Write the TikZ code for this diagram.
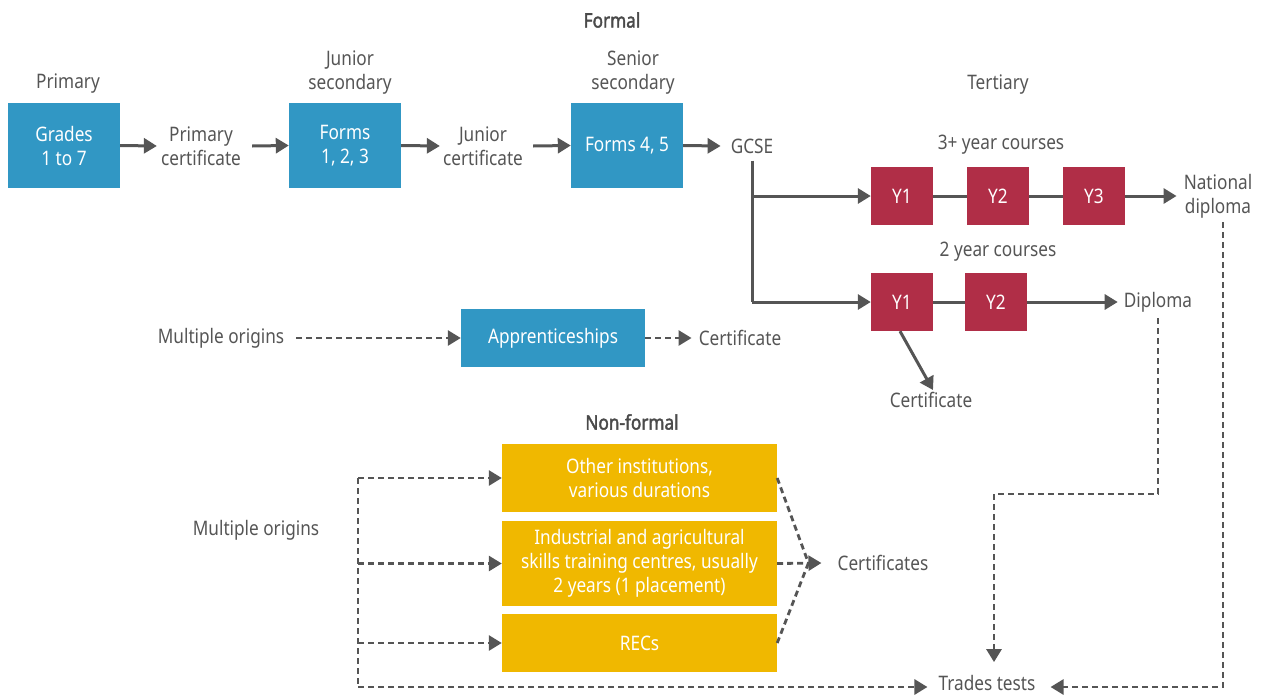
\documentclass[tikz,border=0pt]{standalone}
\usepackage{fontspec}
\setmainfont{Noto Sans}[FakeStretch=0.86]
\newfontfamily\headfont{Noto Sans}[FakeStretch=0.86, FakeBold=2]
\usetikzlibrary{arrows.meta}

\definecolor{eduBlue}{HTML}{3197C4}
\definecolor{eduRed}{HTML}{B02E47}
\definecolor{eduYellow}{HTML}{F0B800}
\definecolor{txtGray}{HTML}{555555}
\definecolor{headGray}{HTML}{4A4A4A}
\definecolor{lnGray}{HTML}{555555}

\tikzset{
  lbl/.style={text=txtGray, align=center, inner sep=0pt},
  head/.style={text=headGray, font=\fontsize{20}{24}\selectfont\headfont, inner sep=0pt},
  boxbase/.style={inner sep=0pt, text=white, align=center},
  bluebox/.style={boxbase, fill=eduBlue},
  redbox/.style={boxbase, fill=eduRed, minimum width=62pt, minimum height=58pt},
  yellowbox/.style={boxbase, fill=eduYellow, minimum width=275pt},
  ln/.style={draw=lnGray, line width=3pt},
  arr/.style={ln, -{Triangle[length=13pt,width=15pt]}},
  dl/.style={draw=lnGray, line width=2.8pt, dash pattern=on 6pt off 4pt},
  darr/.style={dl, -{Triangle[length=13pt,width=15pt]}},
}

\begin{document}
\begin{tikzpicture}[x=1pt, y=-1pt, font=\fontsize{20}{24}\selectfont]
\useasboundingbox (0,0) rectangle (1262,694);

% ---------- formal pathway ----------
\node[head] (hformal) at (612,20) {Formal};

\node[lbl] (lprim) at (68,84) {Primary};
\node[bluebox, minimum width=112pt, minimum height=85pt] (grades) at (64,145.5) {Grades\\1 to 7};
\node[lbl] (pcert) at (201,146) {Primary\\certificate};

\node[lbl] (ljun) at (350,73) {Junior\\secondary};
\node[bluebox, minimum width=112pt, minimum height=85pt] (f123) at (345,145.5) {Forms\\1, 2, 3};
\node[lbl] (jcert) at (483,146) {Junior\\certificate};

\node[lbl] (lsen) at (633,73) {Senior\\secondary};
\node[bluebox, minimum width=112pt, minimum height=85pt] (f45) at (627,145.5) {Forms 4, 5};
\node[lbl] (gcse) at (752,146) {GCSE};

\draw[arr] (grades.east) -- ([xshift=-4pt]pcert.west);
\draw[arr] ([xshift=11pt]pcert.east) -- (f123.west);
\draw[arr] (f123.east) -- ([xshift=-3pt]jcert.west);
\draw[arr] ([xshift=10pt]jcert.east) -- (f45.west);
\draw[arr] (f45.east) -- ([xshift=-10pt]gcse.west);

% ---------- tertiary ----------
\node[lbl] (lter) at (998,85) {Tertiary};
\node[lbl] (l3y) at (1001,145) {3+ year courses};
\node[redbox] (ya1) at (902,196) {Y1};
\node[redbox] (ya2) at (998,196) {Y2};
\node[redbox] (ya3) at (1094,196) {Y3};
\node[lbl] (natdip) at (1218,196) {National\\diploma};

\node[lbl] (l2y) at (998,252) {2 year courses};
\node[redbox] (yb1) at (902,302) {Y1};
\node[redbox] (yb2) at (996,302) {Y2};
\node[lbl] (dip) at (1158,302) {Diploma};
\node[lbl] (tcert) at (931,400) {Certificate};

\draw[ln] ([yshift=-7pt]gcse.south) -- (gcse.south |- yb1.west);
\draw[arr] (gcse.south |- yb1.west) -- (yb1.west);
\draw[arr] (gcse.south |- ya1.west) -- (ya1.west);
\draw[ln] (ya1.east) -- (ya2.west);
\draw[ln] (ya2.east) -- (ya3.west);
\draw[arr] (ya3.east) -- ([xshift=-7pt]natdip.west);
\draw[ln] (yb1.east) -- (yb2.west);
\draw[arr] (yb2.east) -- ([xshift=-6pt]dip.west);
\draw[arr] ([xshift=-2pt]yb1.south) -- ([xshift=2pt,yshift=2pt]tcert.north);

% ---------- apprenticeships ----------
\node[lbl] (morig1) at (221,338) {Multiple origins};
\node[bluebox, minimum width=184pt, minimum height=58pt] (appr) at (553,338) {Apprenticeships};
\node[lbl] (acert) at (740,338) {Certificate};
\draw[darr] ([xshift=12pt]morig1.east) -- (appr.west);
\draw[darr] (appr.east) -- ([xshift=-7pt]acert.west);

% ---------- non-formal pathway ----------
\node[head] (hnon) at (632,422) {Non-formal};
\node[yellowbox, minimum height=68pt] (oth) at (639.5,478) {Other institutions,\\various durations};
\node[yellowbox, minimum height=85pt] (ind) at (639.5,563.5) {Industrial and agricultural\\skills training centres, usually\\2 years (1 placement)};
\node[yellowbox, minimum height=58pt] (recs) at (639.5,643) {RECs};
\node[lbl] (morig2) at (256,530) {Multiple origins};
\node[lbl] (certs) at (883,563) {Certificates};
\node[lbl] (trades) at (987,683) {Trades tests};

\coordinate (brx) at (358,0);
\coordinate (bry) at (0,687);
\draw[dl] (brx |- oth.west) -- (brx |- bry);
\draw[darr] (brx |- oth.west) -- (oth.west);
\draw[darr] (brx |- ind.west) -- (ind.west);
\draw[darr] (brx |- recs.west) -- (recs.west);
\draw[darr] (brx |- bry) -- ([xshift=-11pt]trades.west |- bry);

\coordinate (cmeet) at ([xshift=-29pt]certs.west);
\draw[dl] (oth.east) -- (cmeet);
\draw[dl] (recs.east) -- (cmeet);
\draw[darr] (ind.east) -- ([xshift=-16pt]certs.west);

% ---------- routes into trades tests ----------
\coordinate (dstep) at (994,494);
\draw[darr] ([yshift=-6pt]dip.south) |- (dstep) -- ([yshift=13pt]trades.north -| dstep);
\coordinate (ntop) at (1223,222);
\draw[darr] (ntop) |- ([xshift=15pt]trades.east |- bry);

\end{tikzpicture}
\end{document}
